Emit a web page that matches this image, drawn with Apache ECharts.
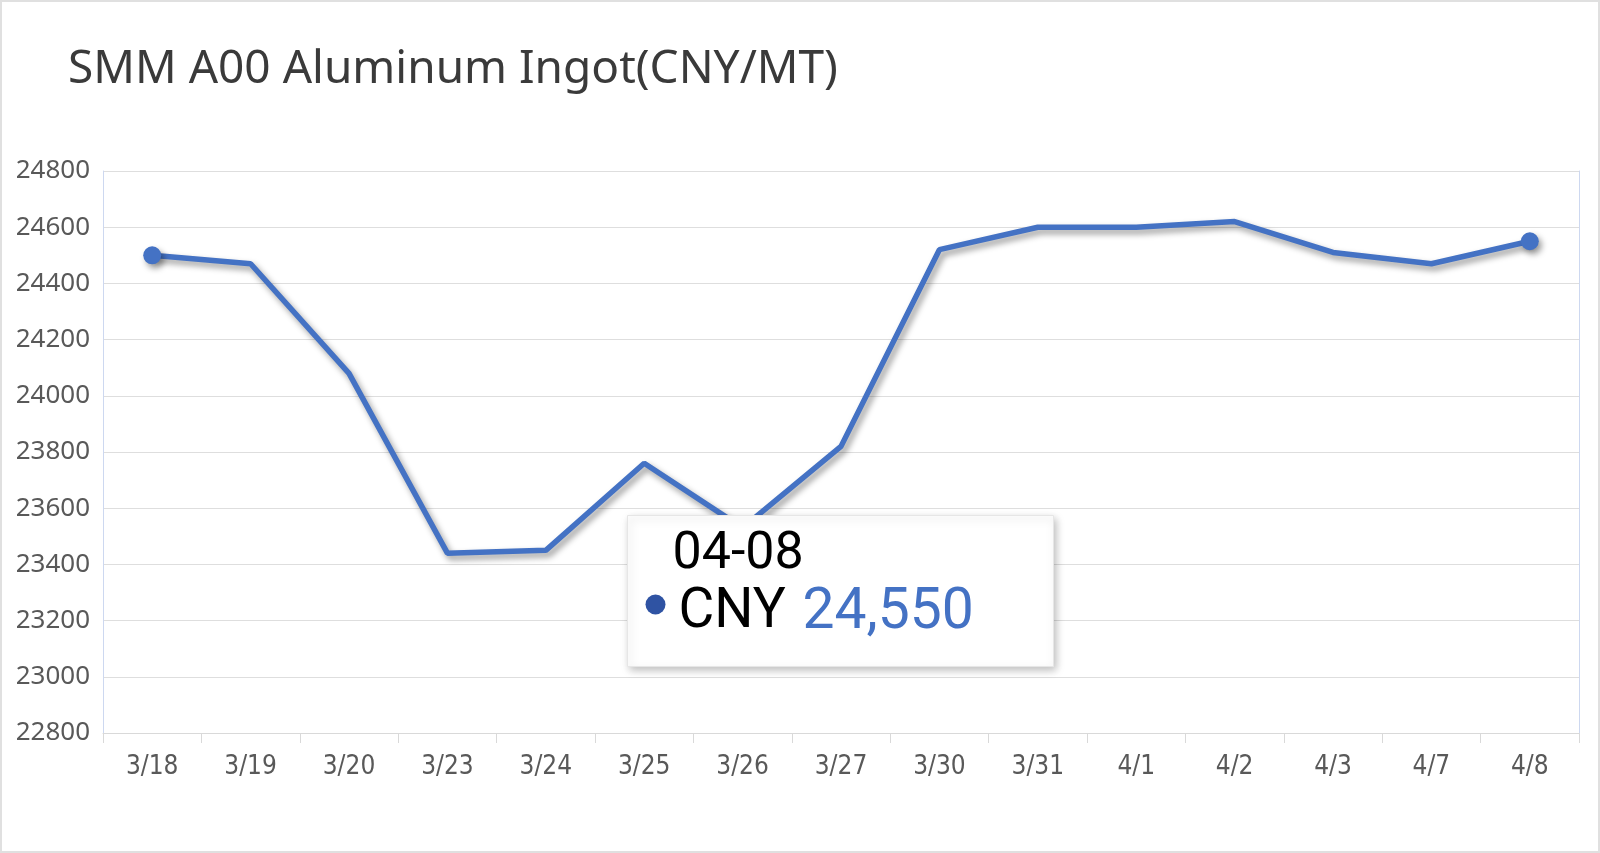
<!DOCTYPE html>
<html>
<head>
<meta charset="utf-8">
<title>SMM A00 Aluminum Ingot</title>
<script src="https://cdn.jsdelivr.net/npm/echarts@6/dist/echarts.min.js"></script>
<style>
  html, body { margin: 0; padding: 0; background: #fff; }
  #wrap {
    width: 1600px;
    height: 853px;
    box-sizing: border-box;
    border: 2px solid #e0e0e0;
    position: relative;
  }
  #mainChart {
    position: absolute;
    left: -2px;
    top: -2px;
    width: 1600px;
    height: 853px;
  }
</style>
</head>
<body>
<div id="wrap"><div id="mainChart"></div></div>
<script type="text/javascript">
// chart data
const days = ['3/18', '3/19', '3/20', '3/23', '3/24', '3/25', '3/26', '3/27', '3/30', '3/31', '4/1', '4/2', '4/3', '4/7', '4/8']
const prices = [24500, 24470, 24080, 23440, 23450, 23760, 23530, 23820, 24520, 24600, 24600, 24620, 24510, 24470, 24550]
const yTicks = [22800, 23000, 23200, 23400, 23600, 23800, 24000, 24200, 24400, 24600, 24800]

const titleText = 'SMM A00 Aluminum Ingot(CNY/MT)'
const seriesName = 'CNY'

const lineColor = '#4472C4'
const lastIdx = prices.length - 1

// tooltip-like box content built from the last point
const lastDay = days[lastIdx].split('/').map(s => s.padStart(2, '0')).join('-')
const lastPrice = prices[lastIdx].toLocaleString('en-US')

const myChart = echarts.init(document.getElementById('mainChart'))
myChart.setOption({
  animation: false,
  title: {
    text: titleText,
    left: 63,
    top: 42,
    textStyle: {
      fontFamily: 'Noto Sans',
      fontSize: 46,
      fontWeight: 'normal',
      color: '#3a3a3a'
    }
  },
  grid: {
    left: 103,
    right: 21,
    top: 171,
    bottom: 120
  },
  xAxis: {
    type: 'category',
    data: days,
    boundaryGap: true,
    axisLine: { lineStyle: { color: '#d9d9d9', width: 1 } },
    axisTick: { show: true, length: 10, lineStyle: { color: '#d9d9d9' } },
    axisLabel: {
      margin: 21,
      fontSize: 26,
      fontFamily: 'Liberation Sans Narrow, DejaVu Sans Condensed, sans-serif',
      color: '#595959'
    }
  },
  yAxis: [
    {
      type: 'value',
      min: yTicks[0],
      max: yTicks[yTicks.length - 1],
      interval: 200,
      axisLine: { show: true, lineStyle: { color: '#cdd8f0' } },
      axisTick: { show: false },
      axisLabel: {
        margin: 13,
        fontSize: 26,
        fontFamily: 'Noto Sans',
        color: '#595959',
        formatter: (value) => String(value)
      },
      splitLine: { lineStyle: { color: '#dedede', width: 1 } }
    },
    {
      type: 'value',
      position: 'right',
      min: yTicks[0],
      max: yTicks[yTicks.length - 1],
      interval: 200,
      axisLine: { show: true, lineStyle: { color: '#cdd8f0' } },
      axisTick: { show: false },
      axisLabel: { show: false },
      splitLine: { show: false }
    }
  ],
  series: [
    {
      name: seriesName,
      type: 'line',
      data: prices,
      z: 2,
      showAllSymbol: true,
      symbol: 'circle',
      symbolSize: (val, params) => (params.dataIndex === 0 || params.dataIndex === lastIdx) ? 18 : 0,
      lineStyle: {
        color: lineColor,
        width: 5.5,
        shadowColor: 'rgba(0, 0, 0, 0.4)',
        shadowBlur: 6,
        shadowOffsetX: 3,
        shadowOffsetY: 4
      },
      itemStyle: {
        color: lineColor,
        shadowColor: 'rgba(0, 0, 0, 0.4)',
        shadowBlur: 6,
        shadowOffsetX: 3,
        shadowOffsetY: 4
      },
      emphasis: { disabled: true }
    }
  ],
  graphic: [
    {
      type: 'group',
      left: 627,
      top: 515,
      children: [
        {
          type: 'rect',
          z: 100,
          shape: { x: 0, y: 0, width: 426, height: 151 },
          style: {
            fill: '#ffffff',
            stroke: '#e6e6e6',
            lineWidth: 1,
            shadowColor: 'rgba(0, 0, 0, 0.25)',
            shadowBlur: 8,
            shadowOffsetX: 2,
            shadowOffsetY: 3
          }
        },
        {
          type: 'text',
          z: 101,
          x: 45,
          y: 39,
          style: {
            text: lastDay,
            fontFamily: 'Roboto',
            fontSize: 52,
            fill: '#000000',
            verticalAlign: 'middle'
          }
        },
        {
          type: 'circle',
          z: 101,
          shape: { cx: 28, cy: 89, r: 10 },
          style: { fill: '#2f53a3' }
        },
        {
          type: 'text',
          z: 101,
          x: 51,
          y: 98,
          style: {
            text: seriesName,
            fontFamily: 'Roboto',
            fontSize: 55,
            fill: '#000000',
            verticalAlign: 'middle'
          }
        },
        {
          type: 'text',
          z: 101,
          x: 175,
          y: 98,
          style: {
            text: lastPrice,
            fontFamily: 'Roboto',
            fontSize: 57,
            fill: lineColor,
            verticalAlign: 'middle'
          }
        }
      ]
    }
  ]
})

window.addEventListener('resize', () => myChart.resize())
</script>
</body>
</html>
